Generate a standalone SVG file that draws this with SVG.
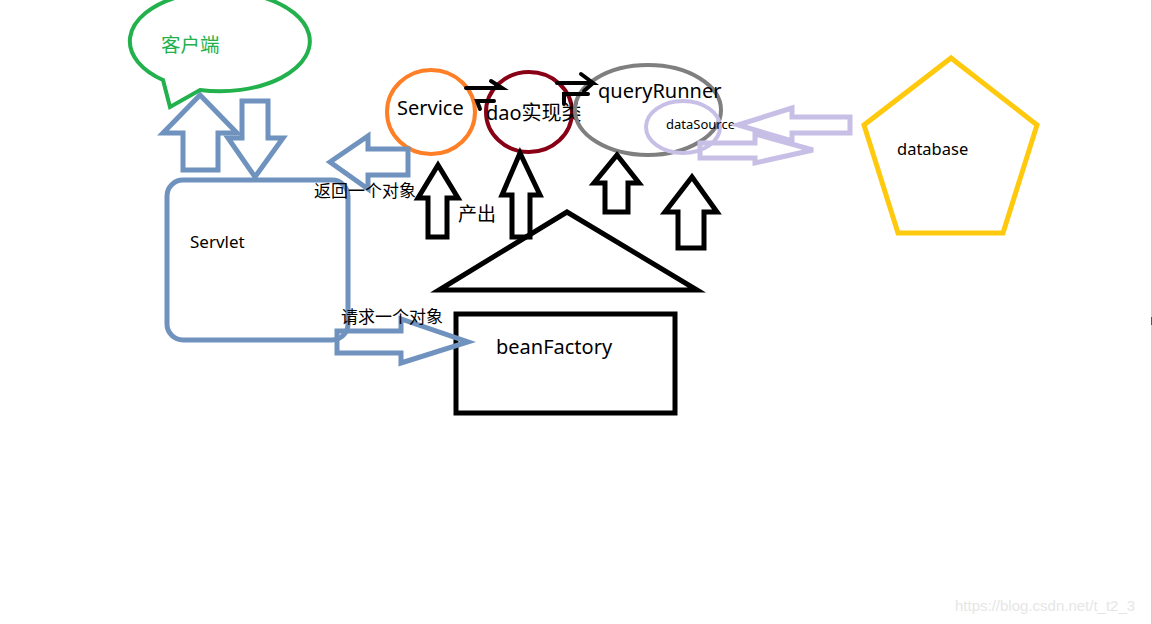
<svg xmlns="http://www.w3.org/2000/svg" width="1152" height="624" viewBox="0 0 1152 624">
<style>
text{font-family:"Noto Sans","Noto Sans CJK SC",sans-serif;fill:#000}
.blue{fill:none;stroke:#7092be;stroke-width:5;stroke-linejoin:miter}
.blk{fill:none;stroke:#000;stroke-width:5}
.lav{fill:none;stroke:#c8bfe7;stroke-width:5}
.harp{fill:none;stroke:#000;stroke-width:4;stroke-linecap:round}
</style>
<rect width="1152" height="624" fill="#fff"/>
<g id="client">
<path d="M163,80 A90,50 0 1 1 200,90 L170,107 Z" fill="none" stroke="#22b14c" stroke-width="4"/>
<text x="161" y="52" font-size="19.5" style="fill:#22b14c">客户端</text>
</g>
<g id="servlet">
<rect x="167" y="180" width="181" height="160" rx="16" class="blue" stroke-width="4"/>
<text x="190" y="248" font-size="17">Servlet</text>
</g>
<g id="service">
<ellipse cx="431" cy="112" rx="44" ry="42" fill="none" stroke="#ff7f27" stroke-width="4"/>
<text x="397" y="115" font-size="20">Service</text>
</g>
<g id="dao">
<ellipse cx="529" cy="112" rx="43" ry="40" fill="none" stroke="#880015" stroke-width="4"/>
<text x="486" y="120" font-size="20">dao实现类</text>
</g>
<g id="queryRunner">
<ellipse cx="648" cy="110" rx="73" ry="45" fill="none" stroke="#7f7f7f" stroke-width="4"/>
<text x="598" y="98" font-size="20">queryRunner</text>
</g>
<g id="dataSource">
<ellipse cx="683" cy="127" rx="37" ry="26" fill="none" stroke="#c8bfe7" stroke-width="4"/>
<text x="666" y="129" font-size="13">dataSource</text>
</g>
<g id="database">
<polygon points="951,58 1037,125 1003,233 898,233 864,125" fill="none" stroke="#ffc90e" stroke-width="5"/>
<text x="897" y="155" font-size="16.5">database</text>
</g>
<g id="beanFactory">
<polygon points="567,212 439,290 697,290" class="blk" stroke-width="4"/>
<rect x="456" y="314" width="219" height="99" class="blk" stroke-width="4.5"/>
<text x="496" y="354" font-size="20">beanFactory</text>
</g>
<g id="connectors">
<polygon class="blue" points="200,95 237,133 218,133 218,170 183,170 183,133 163,133"/>
<polygon class="blue" points="242,101 268,101 268,138 283,138 255,177 228,138 242,138"/>
<polygon class="blue" points="330,162 368,136 368,149 408,149 408,175 368,175 368,189"/>
<polygon class="blue" points="337,331 401,331 401,319 468,342 401,363 401,353 337,353"/>
<polygon class="blk" points="438,165 458,198 447,198 447,237 428,237 428,198 418,198"/>
<polygon class="blk" points="520,153 540,195 530,195 530,237 512,237 512,195 502,195"/>
<polygon class="blk" points="617,155 639,183 628,183 628,212 605,212 605,183 594,183"/>
<polygon class="blk" points="692,177 717,212 704,212 704,248 678,248 678,212 665,212"/>
<polygon class="lav" points="738,125 792,108 792,117 850,117 850,133 792,133 792,141"/>
<polygon class="lav" points="700,143 755,143 755,134 813,150 755,163 755,158 700,158"/>
<path class="harp" d="M466,88 L502,88 L491,81"/>
<path class="harp" d="M480,109 L477,101 L494,101"/>
<path class="harp" d="M557,83 L593,83 L581,74 M593,83 L584,91"/>
<path class="harp" d="M564,104 L564,94 L588,94"/>
<text x="314" y="197" font-size="17">返回一个对象</text>
<text x="341" y="323" font-size="17">请求一个对象</text>
<text x="458" y="221" font-size="19">产出</text>
</g>
<line x1="1151.5" y1="0" x2="1151.5" y2="624" stroke="#c8cde0" stroke-width="1"/>
<rect x="1151" y="317" width="1" height="8" fill="#555"/>
<text x="955" y="611" font-size="15" style="font-family:'Liberation Sans',Arial,sans-serif;fill:#e6e6e6">https://blog.csdn.net/t_t2_3</text>
</svg>
